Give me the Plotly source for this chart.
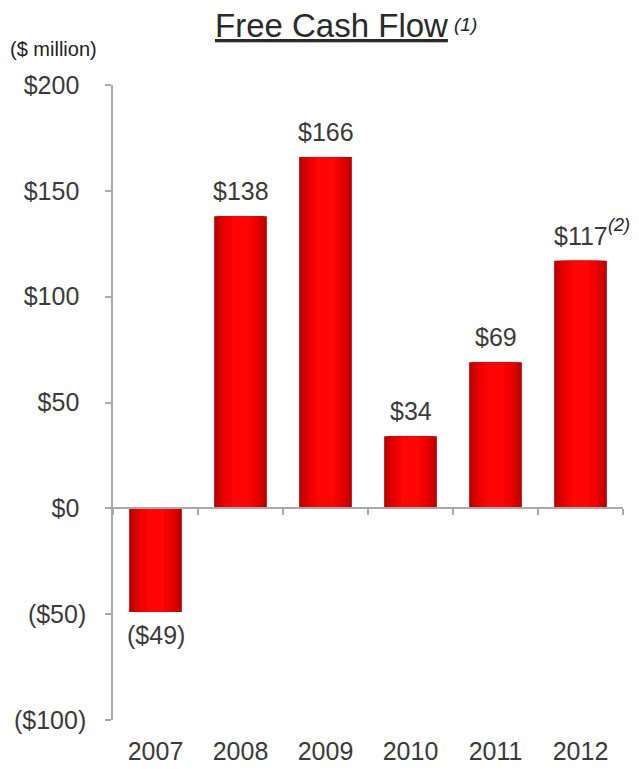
import plotly.graph_objects as go

# ---- data ----
years = ["2007", "2008", "2009", "2010", "2011", "2012"]
fcf = [-49, 138, 166, 34, 69, 117]
value_labels = ["($49)", "$138", "$166", "$34", "$69", "$117"]
y_tickvals = [-100, -50, 0, 50, 100, 150, 200]
# positive labels carry a trailing no-break space so digits align like accounting format
y_ticktext = ["($100)", "($50)", "$0\u00a0", "$50\u00a0", "$100\u00a0", "$150\u00a0", "$200\u00a0"]

FONT = "Liberation Sans, Arial, sans-serif"
TXT = "#3a3a3a"
AX = "#a9a9a9"

# gradient layers (outer dark -> inner bright) to mimic cylindrical shading
base_w = 0.62
layers = [
    (1.00, "#b80000"),
    (0.90, "#cc0000"),
    (0.78, "#dd0000"),
    (0.64, "#ec0000"),
    (0.50, "#f70000"),
    (0.34, "#ff0505"),
]

fig = go.Figure()
for frac, col in layers:
    fig.add_trace(go.Bar(
        x=years, y=fcf, width=base_w * frac,
        marker=dict(color=col, line=dict(width=0)),
        hoverinfo="skip", showlegend=False,
    ))

# invisible trace so the zero-line category axis gets its categories
fig.add_trace(go.Scatter(
    x=years, y=fcf, xaxis="x2", mode="markers",
    marker=dict(opacity=0), hoverinfo="skip", showlegend=False,
))

annotations = []
for i, (v, lab) in enumerate(zip(fcf, value_labels)):
    annotations.append(dict(
        x=i, y=v, xref="x", yref="y", text=lab, showarrow=False,
        yanchor="bottom" if v >= 0 else "top",
        yshift=9 if v >= 0 else -7,
        font=dict(family=FONT, size=25, color=TXT),
    ))

# footnote marker on 2012
annotations.append(dict(
    x=len(years) - 1, y=fcf[-1], xref="x", yref="y", text="<i>(2)</i>",
    showarrow=False, xanchor="left", yanchor="middle",
    xshift=25, yshift=36,
    font=dict(family=FONT, size=18, color="#222222"),
))

# title and its footnote marker
annotations.append(dict(
    x=0.4294, y=1.093, xref="paper", yref="paper",
    text="<u>Free Cash Flow</u>", showarrow=False,
    xanchor="center", yanchor="middle",
    font=dict(family=FONT, size=33, color="#2a2a2a"),
))
annotations.append(dict(
    x=0.665, y=1.0945, xref="paper", yref="paper",
    text="<i>(1)</i>", showarrow=False,
    xanchor="left", yanchor="middle",
    font=dict(family=FONT, size=19, color="#222222"),
))

annotations.append(dict(
    x=-0.2059, y=1.0567, xref="paper", yref="paper", text="($ million)",
    showarrow=False, xanchor="left", yanchor="middle",
    font=dict(family=FONT, size=20, color="#222222"),
))

fig.update_layout(
    width=631, height=761,
    margin=dict(l=105, r=16, t=77, b=49),
    paper_bgcolor="white", plot_bgcolor="white",
    barmode="overlay",
    xaxis=dict(
        type="category", categoryarray=years, range=[-0.5, 5.5],
        showline=False, ticks="", showgrid=False, zeroline=False,
        tickfont=dict(family=FONT, size=25, color=TXT),
        ticklabelstandoff=14, automargin=False,
    ),
    xaxis2=dict(
        type="category", categoryarray=years, range=[-0.5, 5.5],
        overlaying="x", anchor="free", position=1/3,
        showticklabels=False, showline=True, linecolor=AX, linewidth=1.5,
        ticks="outside", tickson="boundaries", ticklen=6, tickcolor=AX,
        tickwidth=1.5, showgrid=False, zeroline=False, automargin=False,
    ),
    yaxis=dict(
        range=[-100, 200], tickvals=y_tickvals, ticktext=y_ticktext,
        showline=True, linecolor=AX, linewidth=1.5,
        ticks="outside", ticklen=6, tickcolor=AX, tickwidth=1.5,
        showgrid=False, zeroline=False,
        tickfont=dict(family=FONT, size=25, color=TXT),
        ticklabelstandoff=14, automargin=False,
    ),
    annotations=annotations,
)

fig.write_html("out.html")
